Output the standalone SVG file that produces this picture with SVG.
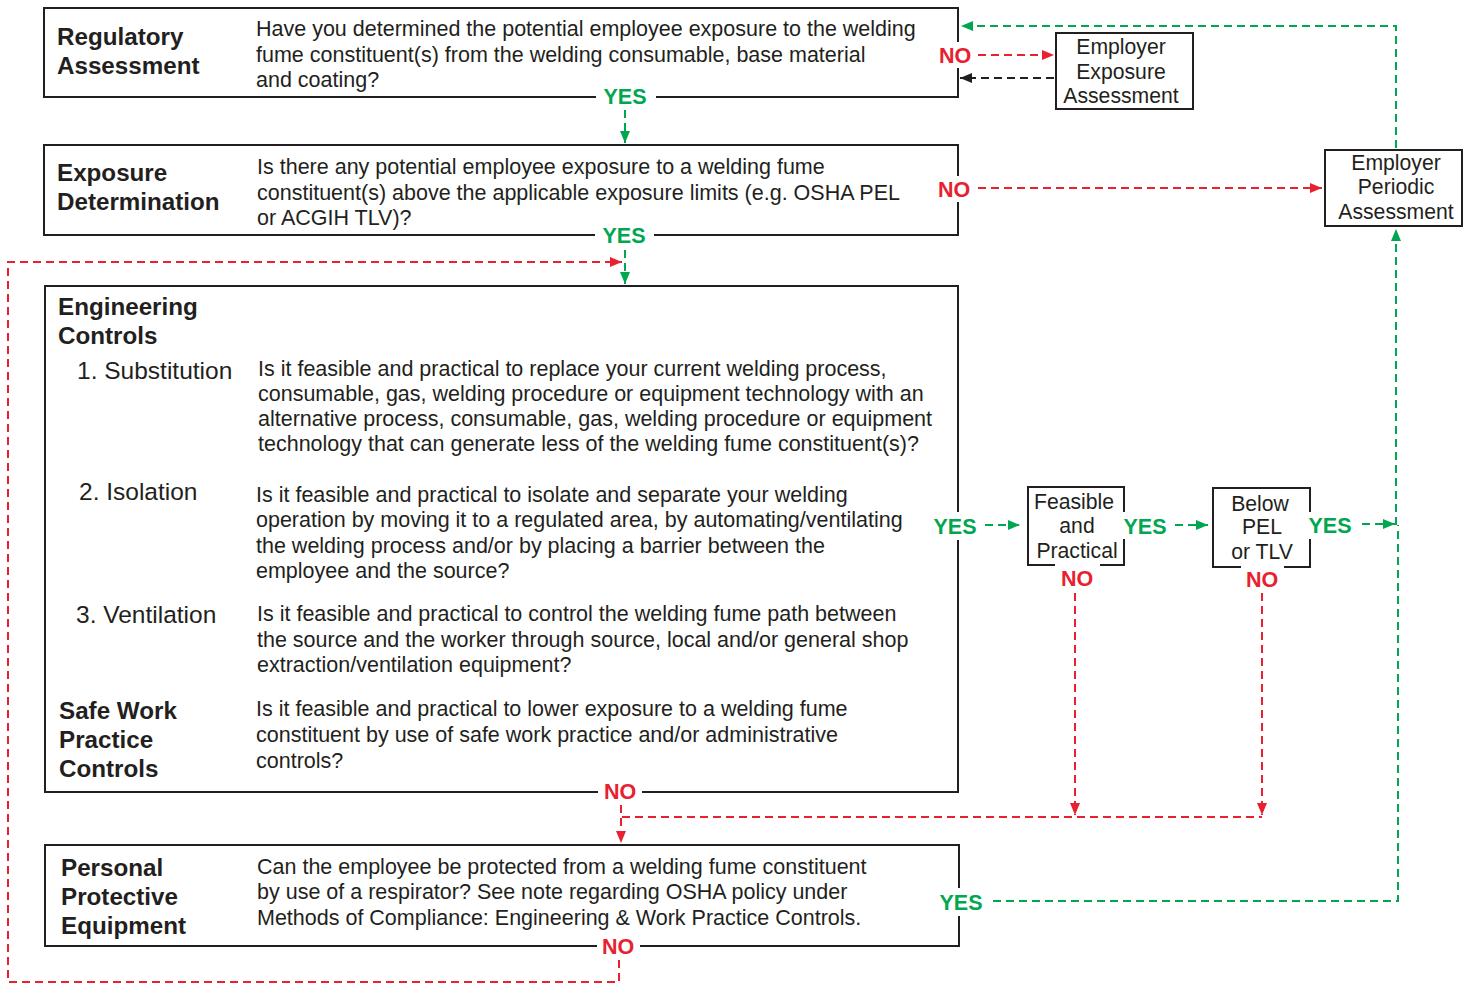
<svg xmlns="http://www.w3.org/2000/svg" width="1470" height="983" viewBox="0 0 1470 983">
<defs>
<marker id="ar" viewBox="0 0 12 10" refX="12" refY="5" markerWidth="12" markerHeight="10" markerUnits="userSpaceOnUse" orient="auto"><path d="M0,0 L12,5 L0,10 z" fill="#e8202f"/></marker>
<marker id="ag" viewBox="0 0 12 10" refX="12" refY="5" markerWidth="12" markerHeight="10" markerUnits="userSpaceOnUse" orient="auto"><path d="M0,0 L12,5 L0,10 z" fill="#00a650"/></marker>
<marker id="ak" viewBox="0 0 12 10" refX="12" refY="5" markerWidth="12" markerHeight="10" markerUnits="userSpaceOnUse" orient="auto"><path d="M0,0 L12,5 L0,10 z" fill="#231f20"/></marker>
</defs>
<style>
.box{fill:none;stroke:#231f20;stroke-width:2}
.t{font-family:"Liberation Sans",Arial,Helvetica,sans-serif;fill:#231f20}
.body{font-size:21.5px}
.item{font-size:24.5px}
.ttl{font-size:24.2px;font-weight:bold}
.sm{font-size:21.2px;text-anchor:middle}
.lbl{font-family:"Liberation Sans",Arial,sans-serif;font-size:21.5px;font-weight:bold;text-anchor:middle}
.yes{fill:#00a650}
.no{fill:#e8202f}
.r{fill:none;stroke:#e8202f;stroke-width:2;stroke-dasharray:8 5}
.g{fill:none;stroke:#00a650;stroke-width:2;stroke-dasharray:8 5}
.k{fill:none;stroke:#231f20;stroke-width:2;stroke-dasharray:8 5}
</style>
<rect width="1470" height="983" fill="#fff"/>

<g id="connectors">
<path class="g" d="M625,110 L625,143" marker-end="url(#ag)"/>
<path class="g" d="M625,250 L625,284" marker-end="url(#ag)"/>
<path class="r" d="M978,55 L1054,55" marker-end="url(#ar)"/>
<path class="k" d="M1054,78 L960,78" marker-end="url(#ak)"/>
<path class="g" d="M1396,148 L1396,26 L961,26" marker-end="url(#ag)"/>
<path class="r" d="M978,188 L1322,188" marker-end="url(#ar)"/>
<path class="r" d="M619,960 L619,982 L8,982 L8,262 L622,262" marker-end="url(#ar)"/>
<path class="g" d="M985,525 L1020,525" marker-end="url(#ag)"/>
<path class="g" d="M1175,525 L1208,525" marker-end="url(#ag)"/>
<path class="g" d="M1362,524 L1395,524" marker-end="url(#ag)"/>
<path class="g" d="M993,901 L1398,901 L1398,525 M1396,525 L1396,229" marker-end="url(#ag)"/>
<path class="r" d="M1075,593 L1075,815" marker-end="url(#ar)"/>
<path class="r" d="M1262,593 L1262,815" marker-end="url(#ar)"/>
<path class="r" d="M622,817 L1262,817"/>
<path class="r" d="M621,805 L621,843" marker-end="url(#ar)"/>
</g>

<g id="regulatory-assessment">
<path class="box" d="M596,97 L44,97 L44,8 L958,8 L958,42 M958,68 L958,97 L656,97"/>
<text class="t ttl" x="57" y="45">Regulatory</text>
<text class="t ttl" x="57" y="74">Assessment</text>
<text class="t body" x="256" y="36">Have you determined the potential employee exposure to the welding</text>
<text class="t body" x="256" y="62">fume constituent(s) from the welding consumable, base material</text>
<text class="t body" x="256" y="87">and coating?</text>
<text class="lbl yes" x="625" y="104">YES</text>
<text class="lbl no" x="955" y="63">NO</text>
</g>

<g id="exposure-determination">
<path class="box" d="M595,235 L44,235 L44,145 L958,145 L958,176 M958,202 L958,235 L654,235"/>
<text class="t ttl" x="57" y="181">Exposure</text>
<text class="t ttl" x="57" y="210">Determination</text>
<text class="t body" x="257" y="174">Is there any potential employee exposure to a welding fume</text>
<text class="t body" x="257" y="200">constituent(s) above the applicable exposure limits (e.g. OSHA PEL</text>
<text class="t body" x="257" y="225">or ACGIH TLV)?</text>
<text class="lbl yes" x="624" y="243">YES</text>
<text class="lbl no" x="954" y="197">NO</text>
</g>

<g id="engineering-controls">
<path class="box" d="M598,792 L45,792 L45,286 L958,286 L958,512 M958,540 L958,792 L642,792"/>
<text class="t ttl" x="58" y="315">Engineering</text>
<text class="t ttl" x="58" y="344">Controls</text>
<text class="t item" x="77" y="379">1. Substitution</text>
<text class="t body" x="258" y="376">Is it feasible and practical to replace your current welding process,</text>
<text class="t body" x="258" y="401">consumable, gas, welding procedure or equipment technology with an</text>
<text class="t body" x="258" y="426">alternative process, consumable, gas, welding procedure or equipment</text>
<text class="t body" x="258" y="451">technology that can generate less of the welding fume constituent(s)?</text>
<text class="t item" x="79" y="500">2. Isolation</text>
<text class="t body" x="256" y="502">Is it feasible and practical to isolate and separate your welding</text>
<text class="t body" x="256" y="527">operation by moving it to a regulated area, by automating/ventilating</text>
<text class="t body" x="256" y="553">the welding process and/or by placing a barrier between the</text>
<text class="t body" x="256" y="578">employee and the source?</text>
<text class="t item" x="76" y="623">3. Ventilation</text>
<text class="t body" x="257" y="621">Is it feasible and practical to control the welding fume path between</text>
<text class="t body" x="257" y="647">the source and the worker through source, local and/or general shop</text>
<text class="t body" x="257" y="672">extraction/ventilation equipment?</text>
<text class="t ttl" x="59" y="719">Safe Work</text>
<text class="t ttl" x="59" y="748">Practice</text>
<text class="t ttl" x="59" y="777">Controls</text>
<text class="t body" x="256" y="716">Is it feasible and practical to lower exposure to a welding fume</text>
<text class="t body" x="256" y="742">constituent by use of safe work practice and/or administrative</text>
<text class="t body" x="256" y="768">controls?</text>
<text class="lbl yes" x="955" y="534">YES</text>
<text class="lbl no" x="620" y="799">NO</text>
</g>

<g id="personal-protective-equipment">
<path class="box" d="M597,946 L45,946 L45,845 L959,845 L959,888 M959,916 L959,946 L640,946"/>
<text class="t ttl" x="61" y="876">Personal</text>
<text class="t ttl" x="61" y="905">Protective</text>
<text class="t ttl" x="61" y="934">Equipment</text>
<text class="t body" x="257" y="874">Can the employee be protected from a welding fume constituent</text>
<text class="t body" x="257" y="899">by use of a respirator? See note regarding OSHA policy under</text>
<text class="t body" x="257" y="925">Methods of Compliance: Engineering &amp; Work Practice Controls.</text>
<text class="lbl yes" x="961" y="910">YES</text>
<text class="lbl no" x="618" y="954">NO</text>
</g>

<g id="employer-exposure-assessment">
<rect class="box" x="1056" y="33" width="137" height="76"/>
<text class="t sm" x="1121" y="54">Employer</text>
<text class="t sm" x="1121" y="79">Exposure</text>
<text class="t sm" x="1121" y="103">Assessment</text>
</g>

<g id="employer-periodic-assessment">
<rect class="box" x="1325" y="150" width="137" height="76"/>
<text class="t sm" x="1396" y="170">Employer</text>
<text class="t sm" x="1396" y="194">Periodic</text>
<text class="t sm" x="1396" y="219">Assessment</text>
</g>

<g id="feasible-and-practical">
<path class="box" d="M1055,565 L1028,565 L1028,487 L1124,487 L1124,512 M1124,539 L1124,565 L1100,565"/>
<text class="t sm" x="1074" y="509">Feasible</text>
<text class="t sm" x="1077" y="533">and</text>
<text class="t sm" x="1077" y="558">Practical</text>
<text class="lbl no" x="1077" y="586">NO</text>
<text class="lbl yes" x="1145" y="534">YES</text>
</g>

<g id="below-pel-or-tlv">
<path class="box" d="M1241,567 L1213,567 L1213,488 L1310,488 L1310,512 M1310,539 L1310,567 L1284,567"/>
<text class="t sm" x="1260" y="511">Below</text>
<text class="t sm" x="1262" y="534">PEL</text>
<text class="t sm" x="1262" y="559">or TLV</text>
<text class="lbl no" x="1262" y="587">NO</text>
<text class="lbl yes" x="1330" y="533">YES</text>
</g>
</svg>
